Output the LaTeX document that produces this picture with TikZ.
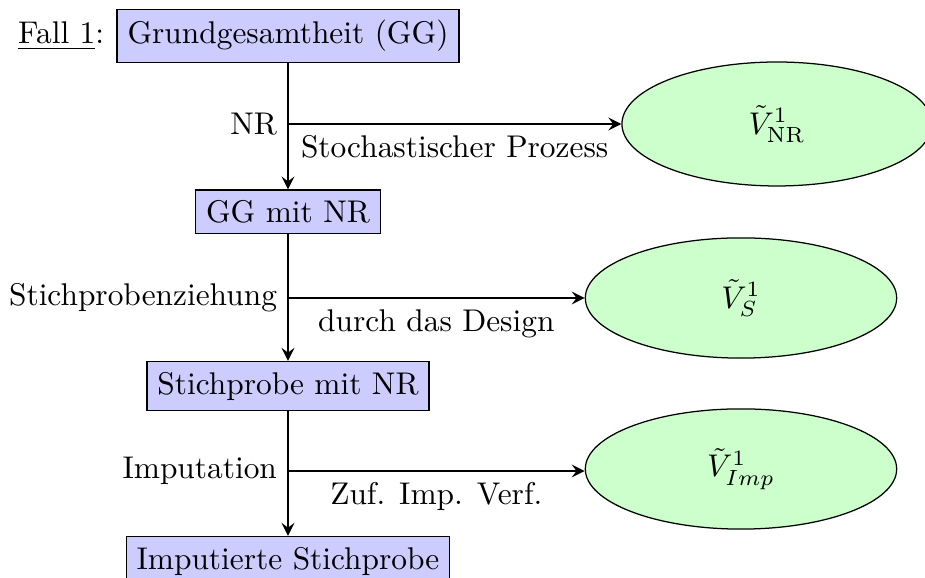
\documentclass[tikz,border=0pt]{standalone}
\usetikzlibrary{shapes.geometric}
\begin{document}
\begin{tikzpicture}[x=0.3186pt,y=-0.3186pt,
  box/.style={draw, fill=blue!20, inner sep=3.33pt},
  ell/.style={ellipse, draw, fill=green!20, minimum width=99.2pt, minimum height=38.3pt, inner sep=0pt},
  arr/.style={thick, -stealth},
  lab/.style={inner sep=3.33pt}]
\useasboundingbox (0,0) rectangle (925,578);
\node[box] (top) at (288,36) {Grundgesamtheit (GG)};
\node[box] (gg) at (288,212) {GG mit NR};
\node[box] (sp) at (288,386) {Stichprobe mit NR};
\node[box] (imp) at (288,561) {Imputierte Stichprobe};
\node[anchor=base east, inner sep=3.33pt, xshift=-0.4pt] (fall) at (top.base west) {\underline{Fall 1}:};
\node[ell, minimum width=98.8pt, minimum height=39.5pt] (e1) at (777,124) {$\tilde{V}^1_{\mathrm{NR}}$};
\node[ell] (e2) at (741,298) {$\tilde{V}^1_{S}$};
\node[ell] (e3) at (741,469) {$\tilde{V}^1_{Imp}$};
\coordinate (b1) at (288,124);
\coordinate (b2) at (288,298);
\coordinate (b3) at (288,471);
\draw[arr] (top) -- (gg);
\draw[arr] (gg) -- (sp);
\draw[arr] (sp) -- (imp);
\draw[arr] (b1) -- node[lab, below] (l1) {Stochastischer Prozess} (e1);
\draw[arr] (b2) -- node[lab, below] (l2) {durch das Design} (e2);
\draw[arr] (b3) -- node[lab, below] (l3) {Zuf. Imp. Verf.} (e3.west |- b3);
\node[lab, anchor=east] (n1) at (b1) {NR};
\node[lab, anchor=east] (n2) at (b2) {Stichprobenziehung};
\node[lab, anchor=east] (n3) at (b3) {Imputation};
\end{tikzpicture}
\end{document}
